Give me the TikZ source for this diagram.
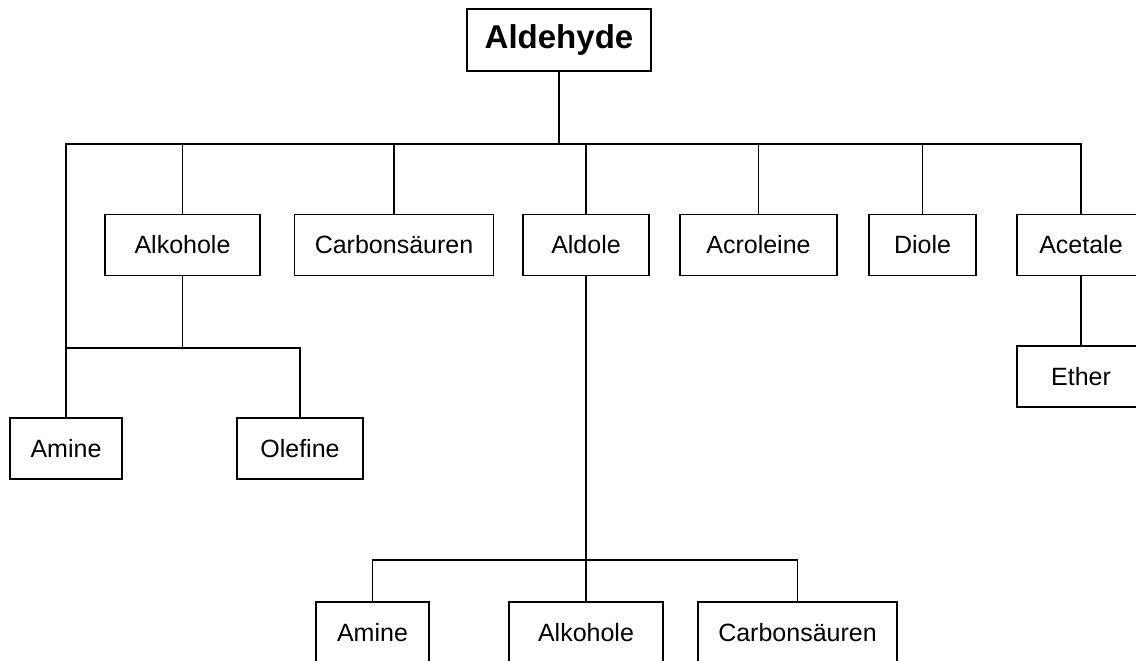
\documentclass[tikz,border=0pt]{standalone}
\usepackage{fontspec}
\setmainfont{Liberation Sans}
\usepackage{tikz}

\tikzset{
  stoff/.style={shape=rectangle, draw=black, line width=1.5pt, minimum height=61pt,
    inner sep=0pt, font=\fontsize{25}{29}\selectfont},
  ast/.style={line width=1.6pt}
}

\begin{document}
\begin{tikzpicture}[x=1pt, y=-1pt]
    \useasboundingbox (0,0) rectangle (1136,661);
    \clip (0,0) rectangle (1136,661);
    \node[stoff, minimum width=184pt, minimum height=62pt, font=\fontsize{33}{37}\selectfont\bfseries] at (559,40) (aldehyde) {Aldehyde};
    \node[stoff, minimum width=155pt] at (182.5,245) (alkohole) {Alkohole};
    \node[stoff, minimum width=199pt] at (394,245) (carbon) {Carbonsäuren};
    \node[stoff, minimum width=126pt] at (586,245) (aldole) {Aldole};
    \node[stoff, minimum width=157pt] at (758.5,245) (acrolein) {Acroleine};
    \node[stoff, minimum width=107pt] at (922.5,245) (diole) {Diole};
    \node[stoff, minimum width=128pt] at (1081,245) (acetale) {Acetale};
    \node[stoff, minimum width=128pt] at (1081,376.5) (ether) {Ether};
    \node[stoff, minimum width=112pt] at (66,448.5) (amineA) {Amine};
    \node[stoff, minimum width=126pt] at (300,448.5) (olefine) {Olefine};
    \node[stoff, minimum width=113pt] at (372.5,632.5) (amineB) {Amine};
    \node[stoff, minimum width=154pt] at (586,632.5) (alkoholeB) {Alkohole};
    \node[stoff, minimum width=199pt] at (797.5,632.5) (carbonB) {Carbonsäuren};
    \coordinate (knoten) at (559,144);
    \coordinate (knotenA) at (182.5,348);
    \coordinate (knotenB) at (586,560);
    \draw[ast] (aldehyde) -- (knoten);
    \draw[ast] (amineA.north) |- (knoten) -| (acetale.north);
    \draw[ast] (alkohole.north) -- (alkohole.north |- knoten);
    \draw[ast] (carbon.north) -- (carbon.north |- knoten);
    \draw[ast] (aldole.north) -- (aldole.north |- knoten);
    \draw[ast] (acrolein.north) -- (acrolein.north |- knoten);
    \draw[ast] (diole.north) -- (diole.north |- knoten);
    \draw[ast] (acetale) -- (ether);
    \draw[ast] (alkohole) -- (knotenA);
    \draw[ast] (amineA.north |- knotenA) -- (knotenA) -| (olefine.north);
    \draw[ast] (aldole) -- (knotenB);
    \draw[ast] (amineB.north) |- (knotenB) -| (carbonB.north);
    \draw[ast] (alkoholeB) -- (knotenB);
\end{tikzpicture}
\end{document}
